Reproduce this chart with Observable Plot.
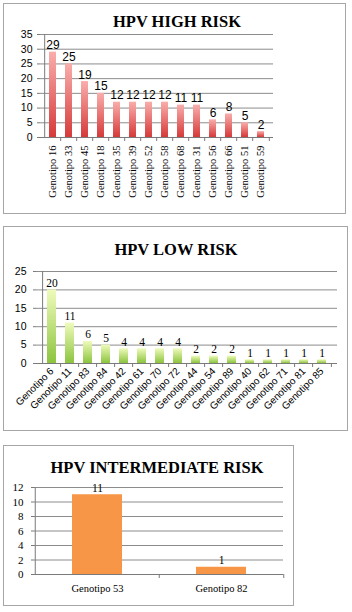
<!DOCTYPE html>
<html><head><meta charset="utf-8">
<script src="https://cdn.jsdelivr.net/npm/d3@7"></script>
<script src="https://cdn.jsdelivr.net/npm/@observablehq/plot@0.6"></script>
<style>
body{margin:0;background:#fff;width:352px;height:612px;position:relative;overflow:hidden;font-family:"Liberation Sans",Arial,sans-serif}
.panel{position:absolute;border:1px solid #a6a6a6;box-sizing:border-box}
.title{position:absolute;font-family:"Liberation Serif","Times New Roman",serif;font-weight:bold;font-size:16.5px;line-height:16px;text-align:center;color:#000;white-space:nowrap}
.chart{position:absolute;left:0}
</style></head><body>
<div class="panel" style="left:3px;top:3px;width:343px;height:211px"></div>
<div class="panel" style="left:3px;top:226px;width:345px;height:205px"></div>
<div class="panel" style="left:3px;top:445px;width:291px;height:161px"></div>
<div class="title" style="left:77px;width:200px;top:13.6px">HPV HIGH RISK</div>
<div class="title" style="left:76px;width:200px;top:241.6px">HPV LOW RISK</div>
<div class="title" style="left:27px;width:260px;top:459.6px">HPV INTERMEDIATE RISK</div>
<div id="c1" class="chart" style="top:28px"></div>
<div id="c2" class="chart" style="top:262px"></div>
<div id="c3" class="chart" style="top:478px"></div>
<script>
const highCats = ["Genotipo 16","Genotipo 33","Genotipo 45","Genotipo 18","Genotipo 35","Genotipo 39","Genotipo 52","Genotipo 58","Genotipo 68","Genotipo 31","Genotipo 56","Genotipo 66","Genotipo 51","Genotipo 59"];
const highVals = [29,25,19,15,12,12,12,12,11,11,6,8,5,2];
const lowCats = ["Genotipo 6","Genotipo 11","Genotipo 83","Genotipo 84","Genotipo 42","Genotipo 61","Genotipo 70","Genotipo 72","Genotipo 44","Genotipo 54","Genotipo 89","Genotipo 40","Genotipo 62","Genotipo 71","Genotipo 81","Genotipo 85"];
const lowVals = [20,11,6,5,4,4,4,4,2,2,2,1,1,1,1,1];
const midCats = ["Genotipo 53","Genotipo 82"];
const midVals = [11,1];

const SANS = "'Liberation Sans', Arial, sans-serif";
const SERIF = "'Liberation Serif', 'Times New Roman', serif";

function chart(o) {
  const data = o.cats.map((c, i) => ({cat: c, val: o.vals[i]}));
  const W = 352;
  const step = (W - o.ml - o.mr) / o.cats.length;
  const grid = "#8c8c8c";
  const svg = Plot.plot({
    width: W, height: o.height,
    marginLeft: o.ml, marginRight: o.mr, marginTop: o.mt, marginBottom: o.mb,
    style: {background: "transparent", fontFamily: o.numFont, fontSize: o.numSize + "px", color: "#000", overflow: "visible"},
    x: {type: "band", domain: o.cats, paddingInner: o.pad, paddingOuter: o.pad / 2},
    y: {domain: [0, o.yMax]},
    marks: [
      Plot.ruleY(d3.range(o.yStep, o.yMax + o.yStep / 2, o.yStep), {stroke: grid, strokeWidth: 1}),
      Plot.barY(data, {x: "cat", y: "val", fill: o.fill}),
      Plot.ruleY([0], {stroke: "#7a7a7a"}),
      Plot.ruleX([o.cats[0]], {dx: -step / 2, stroke: "#7a7a7a"}),
      Plot.ruleX(o.cats.slice(1), {x: d => d, dx: -step / 2, y1: 0, y2: 0, insetBottom: -4, stroke: "#7a7a7a"}),
      Plot.ruleX(o.cats.slice(-1), {x: d => d, dx: step / 2, y1: 0, y2: 0, insetBottom: -4, stroke: "#7a7a7a"}),
      Plot.axisY({ticks: d3.range(0, o.yMax + o.yStep / 2, o.yStep), tickSize: 3, tickPadding: o.yPad, stroke: "#7a7a7a", fill: "#000", label: null, fontSize: o.numSize, fontFamily: o.numFont}),
      Plot.axisX({tickSize: 0, tickPadding: o.xPad, tickRotate: o.rotate, label: null, fill: "#000", fontSize: o.labSize, fontFamily: o.labFont}),
      Plot.text(data, {x: "cat", y: "val", text: d => String(d.val), dy: -3, lineAnchor: "bottom", fill: "#000", fontSize: o.valSize, fontFamily: o.valFont})
    ]
  });
  if (o.grad) {
    const ns = "http://www.w3.org/2000/svg";
    const defs = document.createElementNS(ns, "defs");
    const lg = document.createElementNS(ns, "linearGradient");
    lg.setAttribute("id", o.grad.id);
    lg.setAttribute("x1", "0"); lg.setAttribute("y1", "0");
    lg.setAttribute("x2", "0"); lg.setAttribute("y2", "1");
    o.grad.stops.forEach(([off, col]) => {
      const s = document.createElementNS(ns, "stop");
      s.setAttribute("offset", off); s.setAttribute("stop-color", col);
      lg.appendChild(s);
    });
    defs.appendChild(lg);
    svg.insertBefore(defs, svg.firstChild);
  }
  document.getElementById(o.el).appendChild(svg);
}

chart({el: "c1", cats: highCats, vals: highVals, fill: "url(#gHigh)",
  grad: {id: "gHigh", stops: [["0", "#f9aeac"], ["1", "#d63a3a"]]},
  yMax: 35, yStep: 5, height: 184, ml: 40, mr: 79, mt: 6, mb: 75, pad: 0.58,
  rotate: -90, xPad: 8, yPad: 5,
  numFont: SANS, numSize: 10.5,
  labFont: SERIF, labSize: 10.5,
  valFont: SANS, valSize: 12});

chart({el: "c2", cats: lowCats, vals: lowVals, fill: "url(#gLow)",
  grad: {id: "gLow", stops: [["0", "#effbbc"], ["1", "#8cc43e"]]},
  yMax: 25, yStep: 5, height: 166, ml: 36, mr: 15, mt: 9, mb: 65, pad: 0.52,
  rotate: -45, xPad: 6, yPad: 7,
  numFont: SANS, numSize: 10.5,
  labFont: SANS, labSize: 10,
  valFont: SERIF, valSize: 11.5});

chart({el: "c3", cats: midCats, vals: midVals, fill: "#f79646",
  yMax: 12, yStep: 2, height: 126, ml: 34, mr: 69, mt: 9, mb: 30, pad: 0.6,
  rotate: 0, xPad: 10, yPad: 8,
  numFont: SERIF, numSize: 11,
  labFont: SERIF, labSize: 10.5,
  valFont: SERIF, valSize: 11.5});
</script>
</body></html>
